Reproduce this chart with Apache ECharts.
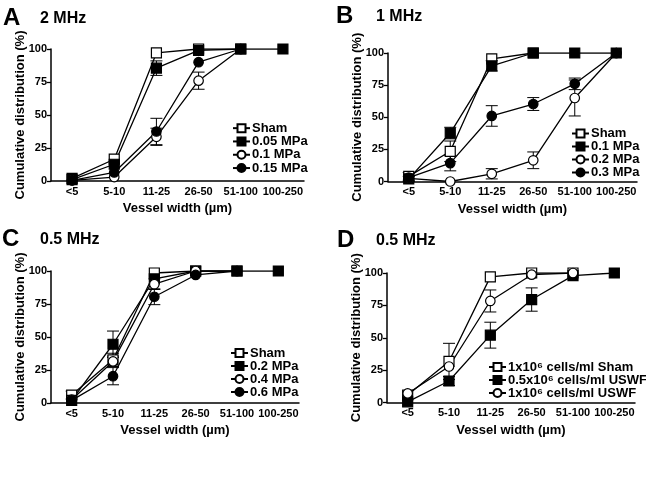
<!DOCTYPE html>
<html>
<head>
<meta charset="utf-8">
<script src="https://cdn.jsdelivr.net/npm/echarts@6/dist/echarts.min.js"></script>
<style>
  html, body { margin: 0; padding: 0; background: #fff; }
  .panel { position: absolute; width: 323px; height: 243px; }
</style>
</head>
<body>
<div id="pa" class="panel" style="left:0;top:0"></div>
<div id="pb" class="panel" style="left:323px;top:0"></div>
<div id="pc" class="panel" style="left:0;top:222px"></div>
<div id="pd" class="panel" style="left:323px;top:222px"></div>
<script>
// categories on x
const categories = ["<5", "5-10", "11-25", "26-50", "51-100", "100-250"];

// A - 2 MHz
const aSham = [2, 16.5, 97, 100, 100];
const aSham_err = [0, 0, 0, 0, 0];
const a005 = [1, 12.7, 85.5, 99, 100, 100];
const a005_err = [0, 0, 5.5, 0, 0, 0];
const a01 = [0.5, 3, 33.5, 76, 100];
const a01_err = [0, 0, 6.5, 6.5, 0];
const a015 = [0.5, 6.5, 37.5, 90, 100];
const a015_err = [0, 0, 10, 0, 0];

// B - 1 MHz
const bSham = [4, 23.5, 95.5, 100];
const bSham_err = [3, 8, 0, 0];
const b01 = [2, 37.7, 90, 100, 100, 100];
const b01_err = [2, 4.5, 4, 0, 0, 0];
const b02 = [2.5, 0, 6, 16.5, 65, 100];
const b02_err = [0, 0, 4, 6.5, 14, 0];
const b03 = [3, 14.3, 51, 60.3, 76, 100];
const b03_err = [0, 6, 8, 5, 4.5, 0];

// C - 0.5 MHz
const cSham = [6, 32.7, 98.5, 100, 100];
const cSham_err = [3, 5, 0, 0, 0];
const c02 = [2, 44.5, 94, 100, 100, 100];
const c02_err = [0, 10, 0, 0, 0, 0];
const c04 = [2.5, 31.5, 90, 100, 100];
const c04_err = [0, 4, 4, 0, 0];
const c06 = [2, 20.3, 80.5, 97, 100];
const c06_err = [0, 6.5, 6, 0, 0];

// D - 0.5 MHz, cell concentrations
const dSham = [5.7, 31.7, 97, 100, 100];
const dSham_err = [0, 14, 0, 0, 0];
const d05 = [0.5, 16.6, 52, 79.5, 98, 100];
const d05_err = [0, 3.5, 10, 9, 0, 0];
const d1 = [7, 27.8, 78.4, 98.7, 100];
const d1_err = [0, 0, 8.5, 0, 0];

const FONT = "Liberation Sans, Arial, sans-serif";

function mkSeries(name, shape, filled, vals) {
  return {
    name: name,
    type: "line",
    data: vals,
    symbol: shape,
    symbolSize: shape === "rect" ? 10 : 9.5,
    z: 3,
    lineStyle: { color: "#000", width: 1.3 },
    itemStyle: {
      color: filled ? "#000" : "#fff",
      borderColor: "#000",
      borderWidth: 1.2,
    },
    emphasis: { disabled: true },
  };
}

function errData(list) {
  const out = [];
  list.forEach(([vals, errs]) => {
    vals.forEach((v, i) => {
      if (errs[i] > 0) out.push([i, v - errs[i], v + errs[i]]);
    });
  });
  return out;
}

function makePanel(id, p) {
  const chart = echarts.init(document.getElementById(id), null, { renderer: "canvas" });
  const series = p.series.map((s) => mkSeries(s[0], s[1], s[2], s[3]));
  series.unshift({
    type: "custom",
    z: 2,
    data: errData(p.series.map((s) => [s[3], s[4]])),
    renderItem: function (params, api) {
      const lo = api.coord([api.value(0), api.value(1)]);
      const hi = api.coord([api.value(0), api.value(2)]);
      const w = 6;
      const st = { stroke: "#000", lineWidth: 1 };
      return {
        type: "group",
        children: [
          { type: "line", shape: { x1: lo[0], y1: lo[1], x2: hi[0], y2: hi[1] }, style: st },
          { type: "line", shape: { x1: lo[0] - w, y1: lo[1], x2: lo[0] + w, y2: lo[1] }, style: st },
          { type: "line", shape: { x1: hi[0] - w, y1: hi[1], x2: hi[0] + w, y2: hi[1] }, style: st },
        ],
      };
    },
  });

  chart.setOption({
    animation: false,
    backgroundColor: "#fff",
    textStyle: { fontFamily: FONT },
    title: [
      {
        text: p.letter,
        left: p.letterX,
        top: p.letterY,
        padding: 0,
        textStyle: { fontFamily: FONT, fontSize: 24, fontWeight: "bold", color: "#000" },
      },
      {
        text: p.freq,
        left: p.freqX,
        top: p.letterY + 5,
        padding: 0,
        textStyle: { fontFamily: FONT, fontSize: 16, fontWeight: "bold", color: "#000" },
      },
    ],
    legend: {
      orient: "vertical",
      left: p.legX,
      top: p.legY,
      padding: 0,
      itemWidth: 17,
      itemHeight: 10,
      itemGap: 0,
      selectedMode: false,
      textStyle: {
        fontFamily: FONT,
        fontSize: 13,
        fontWeight: "bold",
        color: "#000",
        lineHeight: p.legLH,
        padding: [0, 0, 0, -3],
      },
      data: p.series.map((s) => s[0]),
    },
    grid: p.grid,
    xAxis: {
      type: "category",
      data: categories,
      boundaryGap: true,
      axisLine: { lineStyle: { color: "#000", width: 1.5 } },
      axisTick: { show: false },
      axisLabel: {
        fontFamily: FONT,
        fontSize: 11,
        fontWeight: "bold",
        color: "#000",
        margin: 5,
        interval: 0,
      },
      name: "Vessel width (µm)",
      nameLocation: "middle",
      nameMoveOverlap: false,
      nameGap: 21,
      nameTextStyle: { fontFamily: FONT, fontSize: 13, fontWeight: "bold", color: "#000" },
    },
    yAxis: {
      type: "value",
      min: 0,
      max: 100,
      interval: 25,
      axisLine: { show: true, lineStyle: { color: "#000", width: 1.5 } },
      axisTick: { show: true, length: 4, lineStyle: { color: "#000", width: 1.3 } },
      splitLine: { show: false },
      axisLabel: {
        fontFamily: FONT,
        fontSize: 11,
        fontWeight: "bold",
        color: "#000",
        margin: 4,
      },
      name: "Cumulative distribution (%)",
      nameLocation: "middle",
      nameMoveOverlap: false,
      nameGap: 24,
      nameTextStyle: { fontFamily: FONT, fontSize: 13, fontWeight: "bold", color: "#000" },
    },
    series: series,
  });
}

makePanel("pa", {
  letter: "A", freq: "2 MHz", letterX: 3, letterY: 6, freqX: 40,
  grid: { left: 51, right: 19, top: 49, height: 132 },
  legX: 232, legY: 121.5, legLH: 13.3,
  series: [
    ["Sham", "rect", false, aSham, aSham_err],
    ["0.05 MPa", "rect", true, a005, a005_err],
    ["0.1 MPa", "circle", false, a01, a01_err],
    ["0.15 MPa", "circle", true, a015, a015_err],
  ],
});

makePanel("pb", {
  letter: "B", freq: "1 MHz", letterX: 13, letterY: 4, freqX: 53,
  grid: { left: 65, right: 9, top: 53, height: 128.5 },
  legX: 248, legY: 127, legLH: 12,
  series: [
    ["Sham", "rect", false, bSham, bSham_err],
    ["0.1 MPa", "rect", true, b01, b01_err],
    ["0.2 MPa", "circle", false, b02, b02_err],
    ["0.3 MPa", "circle", true, b03, b03_err],
  ],
});

makePanel("pc", {
  letter: "C", freq: "0.5 MHz", letterX: 2, letterY: 5, freqX: 40,
  grid: { left: 51, right: 24, top: 49, height: 132 },
  legX: 230, legY: 124.5, legLH: 13,
  series: [
    ["Sham", "rect", false, cSham, cSham_err],
    ["0.2 MPa", "rect", true, c02, c02_err],
    ["0.4 MPa", "circle", false, c04, c04_err],
    ["0.6 MPa", "circle", true, c06, c06_err],
  ],
});

makePanel("pd", {
  letter: "D", freq: "0.5 MHz", letterX: 14, letterY: 6, freqX: 53,
  grid: { left: 64, right: 11, top: 51, height: 129.5 },
  legX: 165, legY: 138.5, legLH: 12.3,
  series: [
    ["1x10⁶ cells/ml Sham", "rect", false, dSham, dSham_err],
    ["0.5x10⁶ cells/ml USWF", "rect", true, d05, d05_err],
    ["1x10⁶ cells/ml USWF", "circle", false, d1, d1_err],
  ],
});
</script>
</body>
</html>
